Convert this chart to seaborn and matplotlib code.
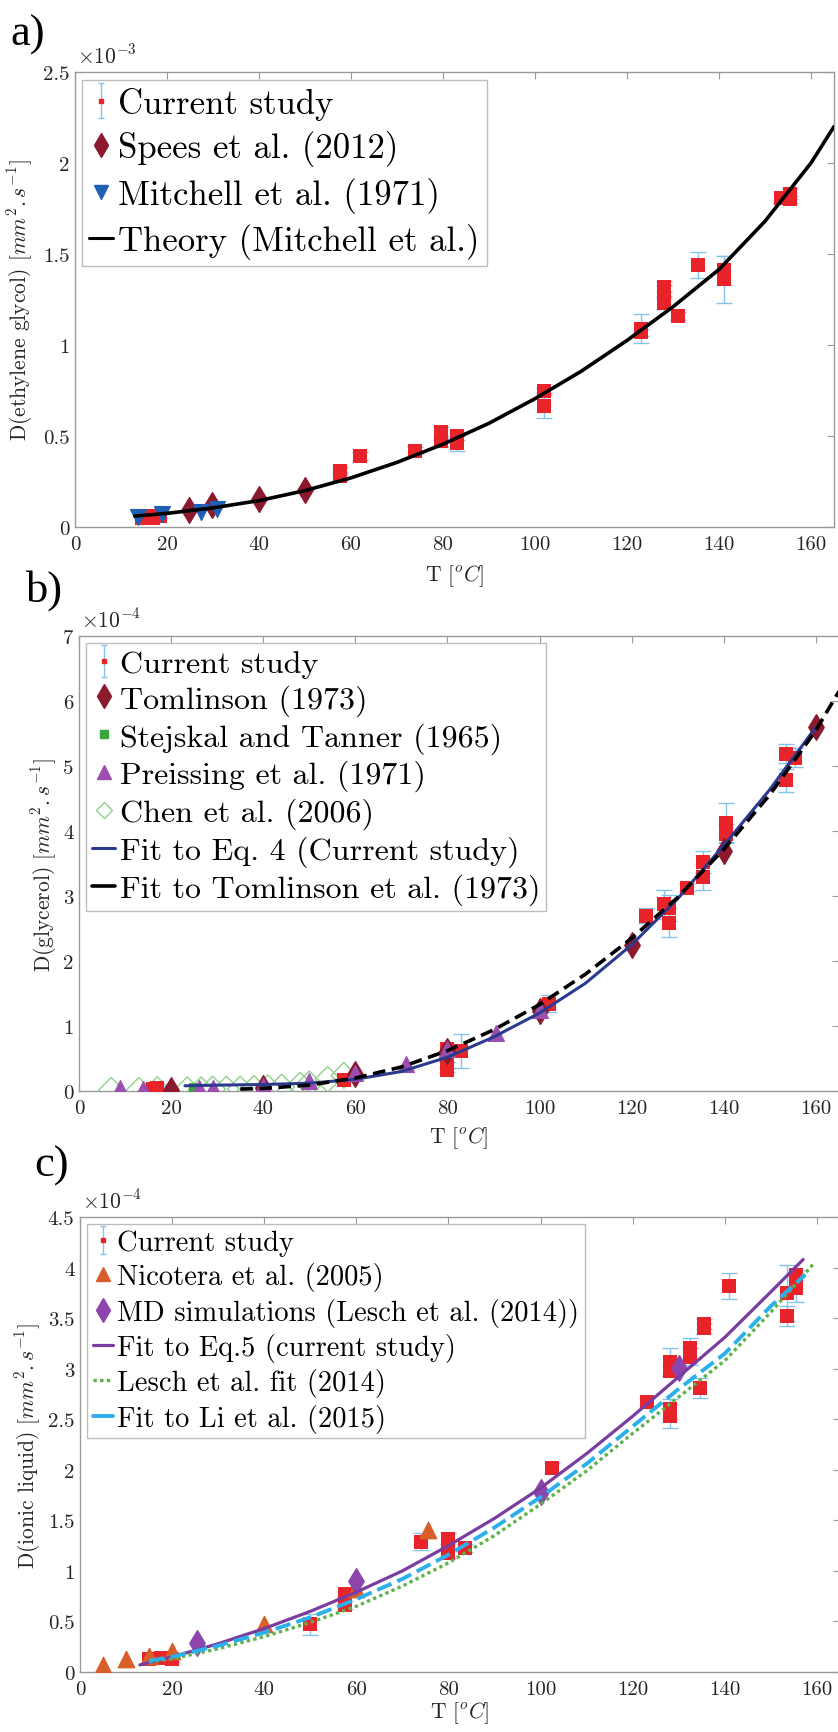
import numpy as np
import pandas as pd
import matplotlib
matplotlib.use("Agg")
import matplotlib.pyplot as plt
import seaborn as sns
from matplotlib.lines import Line2D
from matplotlib.ticker import FuncFormatter, MultipleLocator

# ---------------- Panel a : ethylene glycol (units of 1e-3 mm^2/s) ----------------
a_cur_T = [14.5, 15.5, 17, 18.5, 57.5, 57.5, 62, 74, 79.5, 79.5, 83, 83, 102, 102,
           123, 123, 128, 128, 128, 131, 135.5, 141, 141, 153.5, 155.5, 155.5]
a_cur_D = [0.05, 0.06, 0.05, 0.06, 0.31, 0.28, 0.39, 0.42, 0.52, 0.47, 0.50, 0.46, 0.745, 0.667,
           1.09, 1.07, 1.32, 1.30, 1.23, 1.16, 1.44, 1.41, 1.36, 1.81, 1.83, 1.80]
a_cur_err = [0.01, 0.01, 0.01, 0.01, 0.02, 0.02, 0.02, 0.02, 0.03, 0.03, 0.02, 0.04, 0.02, 0.07,
             0.08, 0.02, 0.03, 0.03, 0.03, 0.02, 0.07, 0.08, 0.13, 0.03, 0.03, 0.02]
a_spees_T = [24.8, 29.7, 40, 50]
a_spees_D = [0.095, 0.12, 0.155, 0.205]
a_mitch_T = [13.7, 19, 27.3, 30.8]
a_mitch_D = [0.055, 0.07, 0.085, 0.10]
a_theory_T = [13, 20, 30, 40, 50, 60, 70, 80, 90, 100, 110, 120, 130, 140, 150, 160, 165]
a_theory_D = [0.06, 0.075, 0.105, 0.145, 0.2, 0.27, 0.355, 0.455, 0.57, 0.705, 0.855, 1.025,
              1.21, 1.415, 1.68, 2.0, 2.2]

# ---------------- Panel b : glycerol (units of 1e-4 mm^2/s) ----------------
b_cur_T = [16, 17, 57.5, 80, 80, 80, 83, 102, 123, 127, 128, 128, 132, 135.5, 135.5,
           140.5, 140.5, 153.5, 153.5, 155.5]
b_cur_D = [0.03, 0.05, 0.17, 0.64, 0.40, 0.33, 0.62, 1.34, 2.70, 2.87, 2.82, 2.59, 3.13, 3.53, 3.30,
           4.13, 3.96, 4.78, 5.19, 5.13]
b_cur_err = [0.02, 0.02, 0.03, 0.07, 0.04, 0.03, 0.26, 0.13, 0.12, 0.22, 0.20, 0.22, 0.05, 0.17, 0.20,
             0.30, 0.15, 0.18, 0.15, 0.15]
b_tom_T = [20, 40, 60, 80, 100, 120, 140, 160]
b_tom_D = [0.01, 0.05, 0.26, 0.62, 1.23, 2.25, 3.70, 5.60]
b_stej_T = [25]
b_stej_D = [0.05]
b_preis_T = [9, 14, 26, 29, 40, 50, 60, 71, 80, 90.5, 100]
b_preis_D = [0.04, 0.03, 0.04, 0.05, 0.07, 0.16, 0.28, 0.42, 0.64, 0.90, 1.24]
b_chen_T = [7, 13, 17, 23.5, 26.5, 29, 32, 35, 38, 41, 44, 48, 50, 54, 57.5]
b_chen_D = [0.01, 0.01, 0.02, 0.02, 0.02, 0.03, 0.03, 0.03, 0.04, 0.05, 0.06, 0.09, 0.11, 0.18, 0.24]
b_fit4_T = [23, 30, 40, 50, 60, 70, 80, 90, 100, 110, 120, 130, 140, 150, 160]
b_fit4_D = [0.08, 0.09, 0.10, 0.12, 0.18, 0.30, 0.52, 0.83, 1.20, 1.66, 2.25, 2.96, 3.78, 4.64, 5.60]
b_fitT_T = [35, 40, 50, 60, 70, 80, 90, 100, 110, 120, 130, 140, 150, 160, 165]
b_fitT_D = [0.03, 0.04, 0.09, 0.20, 0.37, 0.62, 0.94, 1.33, 1.80, 2.35, 2.98, 3.72, 4.56, 5.55, 6.15]

# ---------------- Panel c : ionic liquid (units of 1e-4 mm^2/s) ----------------
c_cur_T = [15, 17.5, 20, 50, 57.5, 57.5, 74, 80, 80, 83.5, 102.5, 123, 128, 128, 128, 128,
           132.5, 132.5, 134.5, 135.5, 135.5, 141, 153.5, 153.5, 155.5, 155.5]
c_cur_D = [0.13, 0.14, 0.13, 0.47, 0.77, 0.66, 1.29, 1.32, 1.18, 1.23, 2.02, 2.67, 3.07, 2.98, 2.60, 2.53,
           3.20, 3.12, 2.81, 3.44, 3.40, 3.82, 3.75, 3.52, 3.80, 3.93]
c_cur_err = [0.04, 0.03, 0.03, 0.10, 0.03, 0.04, 0.08, 0.05, 0.05, 0.04, 0.05, 0.04, 0.13, 0.05, 0.10, 0.12,
             0.10, 0.08, 0.10, 0.05, 0.05, 0.13, 0.28, 0.10, 0.14, 0.05]
c_nic_T = [5, 10, 15, 20, 40, 60, 75.5]
c_nic_D = [0.07, 0.13, 0.16, 0.21, 0.47, 0.82, 1.40]
c_md_T = [25.3, 60, 100, 130]
c_md_D = [0.29, 0.90, 1.78, 3.01]
c_fit5_T = [13, 20, 30, 40, 50, 60, 70, 80, 90, 100, 110, 120, 130, 140, 150, 157]
c_fit5_D = [0.07, 0.15, 0.28, 0.43, 0.60, 0.79, 1.00, 1.25, 1.52, 1.82, 2.16, 2.53, 2.92, 3.31, 3.76, 4.08]
c_lesch_T = [15, 20, 30, 40, 50, 60, 70, 80, 90, 100, 110, 120, 130, 140, 150, 159.5]
c_lesch_D = [0.10, 0.13, 0.23, 0.35, 0.49, 0.65, 0.85, 1.08, 1.35, 1.66, 1.99, 2.36, 2.72, 3.08, 3.56, 4.05]
c_li_T = [15, 20, 30, 40, 50, 60, 70, 80, 90, 100, 110, 120, 130, 140, 150, 157.5]
c_li_D = [0.11, 0.15, 0.26, 0.39, 0.54, 0.72, 0.92, 1.16, 1.43, 1.73, 2.06, 2.43, 2.80, 3.15, 3.62, 3.93]

x_ticks = [0, 20, 40, 60, 80, 100, 120, 140, 160]

# ---------------- style ----------------
sns.set_theme(style="white")
plt.rcParams["font.family"] = ["cmr10"]
plt.rcParams["mathtext.fontset"] = "cm"
plt.rcParams["axes.unicode_minus"] = False
plt.rcParams["axes.formatter.use_mathtext"] = True

RED = "#e8242a"
EBAR = "#86c3ec"
SPINE = "#9a9a9a"
TXT = "#262626"

W, H = 838, 1733
fig = plt.figure(figsize=(W / 100, H / 100), dpi=100)


def add_ax(left, top, right, bottom):
    return fig.add_axes([left / W, 1 - bottom / H, (right - left) / W, (bottom - top) / H])


fmt = FuncFormatter(lambda v, p: f"{v:g}")


def style_ax(ax, ymax, ystep, exp, ylabel, xlab_y, ylab_x):
    ax.set_xlim(0, 165)
    ax.set_ylim(0, ymax)
    ax.set_xticks(x_ticks)
    ax.yaxis.set_major_locator(MultipleLocator(ystep))
    ax.xaxis.set_major_formatter(fmt)
    ax.yaxis.set_major_formatter(fmt)
    ax.tick_params(direction="in", length=5, width=0.8, color=SPINE, top=True, right=True,
                   labelsize=15, labelcolor=TXT)
    ax.tick_params(axis="x", pad=6)
    ax.tick_params(axis="y", pad=4)
    for s in ax.spines.values():
        s.set_color(SPINE)
        s.set_linewidth(1.0)
    ax.set_xlabel(r"T $[^oC]$", fontsize=15.5, color=TXT)
    ax.set_ylabel(ylabel, fontsize=15.5, color=TXT)
    ax.xaxis.set_label_coords(0.5, xlab_y)
    ax.yaxis.set_label_coords(ylab_x, 0.5)
    ax.text(0.003, 1.011, r"$\times10^{%d}$" % exp, transform=ax.transAxes, ha="left", va="bottom",
            fontsize=15.5, color=TXT)


def current(ax, T, D, err):
    ax.errorbar(T, D, yerr=err, fmt="none", ecolor=EBAR, elinewidth=1.0, capsize=6, capthick=1.0, zorder=2)
    sns.scatterplot(x=T, y=D, ax=ax, marker="s", s=115, color=RED, edgecolor=RED, linewidth=0, zorder=3)


def cur_handle(ax):
    return ax.errorbar([np.nan], [np.nan], yerr=[np.nan], fmt="s", ms=2.5, color=RED, mec=RED,
                       ecolor=EBAR, elinewidth=1.0, capsize=2)


def mk(marker, color, ms, mfc=None):
    return Line2D([], [], ls="", marker=marker, color=color, ms=ms, mec=color,
                  mfc=color if mfc is None else mfc)


def ln(color, ls, lw):
    return Line2D([], [], color=color, ls=ls, lw=lw)


def legend(ax, handles, labels, fs, x0, y0, spacing):
    leg = ax.legend(handles, labels, loc="upper left", bbox_to_anchor=(x0, y0), fontsize=fs,
                    frameon=True, fancybox=False, borderaxespad=0, borderpad=0.2,
                    handlelength=0.7, handletextpad=0.15, labelspacing=spacing, framealpha=1)
    leg.get_frame().set_edgecolor("#bdbdbd")
    leg.get_frame().set_linewidth(1.0)
    for t in leg.get_texts():
        t.set_color("black")
    return leg


# ================= Panel a =================
axa = add_ax(75, 73, 834, 528)
sns.lineplot(x=a_theory_T, y=a_theory_D, ax=axa, color="black", lw=2.6, sort=False, estimator=None, zorder=4)
current(axa, a_cur_T, a_cur_D, a_cur_err)
sns.scatterplot(x=a_spees_T, y=a_spees_D, ax=axa, marker="d", s=170, color="#8b1a2e", edgecolor="#8b1a2e", zorder=3)
sns.scatterplot(x=a_mitch_T, y=a_mitch_D, ax=axa, marker="v", s=130, color="#1f5fb4", edgecolor="#1f5fb4", zorder=3)
style_ax(axa, 2.5, 0.5, -3, r"D(ethylene glycol) $[mm^2.s^{-1}]$", -0.077, -0.053)
legend(axa, [cur_handle(axa), mk("d", "#8b1a2e", 12), mk("v", "#1f5fb4", 10), ln("black", "-", 2.2)],
       ["Current study", "Spees et al. (2012)", "Mitchell et al. (1971)", "Theory (Mitchell et al.)"],
       25, 7 / 759, (528 - 81) / 455, 0.3)

# ================= Panel b =================
axb = add_ax(79, 637, 839, 1092)
sns.scatterplot(x=b_chen_T, y=b_chen_D, ax=axb, marker="D", s=170, facecolors="none",
                edgecolor="#8fd18a", linewidth=1.0, zorder=2)
current(axb, b_cur_T, b_cur_D, b_cur_err)
sns.scatterplot(x=b_stej_T, y=b_stej_D, ax=axb, marker="s", s=60, color="#3aa53a", edgecolor="#3aa53a", zorder=3)
sns.scatterplot(x=b_tom_T, y=b_tom_D, ax=axb, marker="d", s=170, color="#8b1a2e", edgecolor="#8b1a2e", zorder=3)
sns.scatterplot(x=b_preis_T, y=b_preis_D, ax=axb, marker="^", s=130, color="#9b4fb0", edgecolor="#9b4fb0", zorder=3)
sns.lineplot(x=b_fit4_T, y=b_fit4_D, ax=axb, color="#2b3a8f", lw=2.2, sort=False, estimator=None, zorder=4)
sns.lineplot(x=b_fitT_T, y=b_fitT_D, ax=axb, color="black", lw=2.6, sort=False, estimator=None, zorder=5,
             linestyle=(0, (3.5, 1.8)))
style_ax(axb, 7, 1, -4, r"D(glycerol) $[mm^2.s^{-1}]$", -0.073, -0.026)
legend(axb, [cur_handle(axb), mk("d", "#8b1a2e", 12), mk("s", "#3aa53a", 6), mk("^", "#9b4fb0", 10),
             mk("D", "#8fd18a", 8, mfc="none"), ln("#2b3a8f", "-", 2.2), ln("black", "-", 2.6)],
       ["Current study", "Tomlinson (1973)", "Stejskal and Tanner (1965)", "Preissing et al. (1971)",
        "Chen et al. (2006)", "Fit to Eq. 4 (Current study)", "Fit to Tomlinson et al. (1973)"],
       23, 7 / 760, (1092 - 644) / 455, 0.2)

# ================= Panel c =================
axc = add_ax(80, 1218, 840, 1673)
current(axc, c_cur_T, c_cur_D, c_cur_err)
sns.scatterplot(x=c_nic_T, y=c_nic_D, ax=axc, marker="^", s=140, color="#d95f2a", edgecolor="#d95f2a", zorder=3)
sns.scatterplot(x=c_md_T, y=c_md_D, ax=axc, marker="d", s=170, color="#8e44ad", edgecolor="#8e44ad", zorder=3)
sns.lineplot(x=c_fit5_T, y=c_fit5_D, ax=axc, color="#7a3d9f", lw=2.3, sort=False, estimator=None, zorder=4)
sns.lineplot(x=c_lesch_T, y=c_lesch_D, ax=axc, color="#5db34a", lw=2.4, sort=False, estimator=None, zorder=4,
             linestyle=(0, (1, 1.0)))
sns.lineplot(x=c_li_T, y=c_li_D, ax=axc, color="#2bb0ea", lw=2.8, sort=False, estimator=None, zorder=4,
             linestyle=(0, (4, 1.6)))
style_ax(axc, 4.5, 0.5, -4, r"D(ionic liquid) $[mm^2.s^{-1}]$", -0.06, -0.049)
legend(axc, [cur_handle(axc), mk("^", "#d95f2a", 10), mk("d", "#8e44ad", 12), ln("#7a3d9f", "-", 2.3),
             ln("#5db34a", (0, (1, 1.0)), 2.4), ln("#2bb0ea", "-", 2.8)],
       ["Current study", "Nicotera et al. (2005)", "MD simulations (Lesch et al. (2014))",
        "Fit to Eq.5 (current study)", "Lesch et al. fit (2014)", "Fit to Li et al. (2015)"],
       20.5, 7 / 760, (1673 - 1225) / 455, 0.22)

for lab, x, y in [("a)", 10, 35), ("b)", 26, 591), ("c)", 34, 1166)]:
    fig.text(x / W, 1 - y / H, lab, fontsize=32, ha="left", va="center", color="black",
             family=["Liberation Serif", "DejaVu Serif"])

fig.savefig("out.png", dpi=100)
